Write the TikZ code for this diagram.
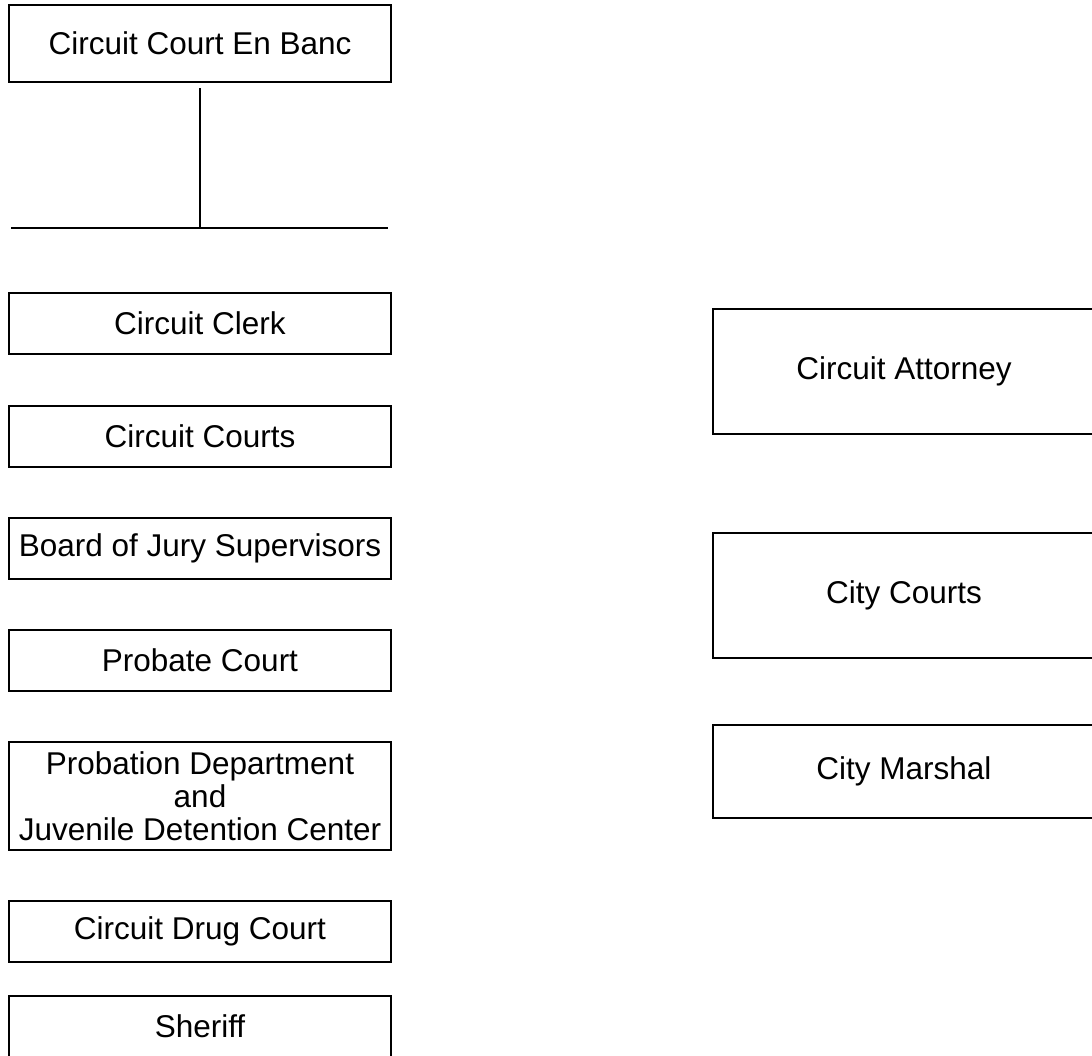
\documentclass[tikz,border=0pt]{standalone}
\usepackage{fontspec}
\setmainfont{Liberation Sans}
\begin{document}
\begin{tikzpicture}[x=1pt,y=-1pt,-]
    \tikzstyle{office}=[rectangle,draw=black,line width=2pt,fill=white,minimum width=382pt,inner sep=0pt,align=center,font=\fontsize{31.5}{33}\selectfont]
    \tikzstyle{link}=[line width=1.5pt]
    \clip (0,0) rectangle (1092,1055);

    \node[office,minimum height=77pt] (banc) at (200,43.5) {Circuit Court En Banc};

    \foreach \name/\y/\txt in {clerk/323.5/Circuit Clerk, courts/436/Circuit Courts, jury/548/Board of Jury Supervisors, probate/660/Probate Court, drug/931.5/Circuit Drug Court, sheriff/1026/Sheriff}
            \node[office,minimum height=61pt] (\name) at (200,\y) {\txt};

    \node[office,minimum height=108pt] (probation) at (200,796) {Probation Department\\and\\Juvenile Detention Center};

        \foreach \name/\y/\h/\txt in {attorney/371.5/125pt/Circuit Attorney, citycourts/595.5/125pt/City Courts, marshal/771.5/93pt/City Marshal}
            \node[office,minimum height=\h] (\name) at (904,\y) {\txt};

        \coordinate (bar-w) at (11,228);
        \coordinate (bar-e) at (388,228);
        \draw[link,shorten <=5pt] (banc.south) -- (banc.south |- bar-w);
        \draw[link] (bar-w) -- (bar-e);
\end{tikzpicture}
\end{document}
